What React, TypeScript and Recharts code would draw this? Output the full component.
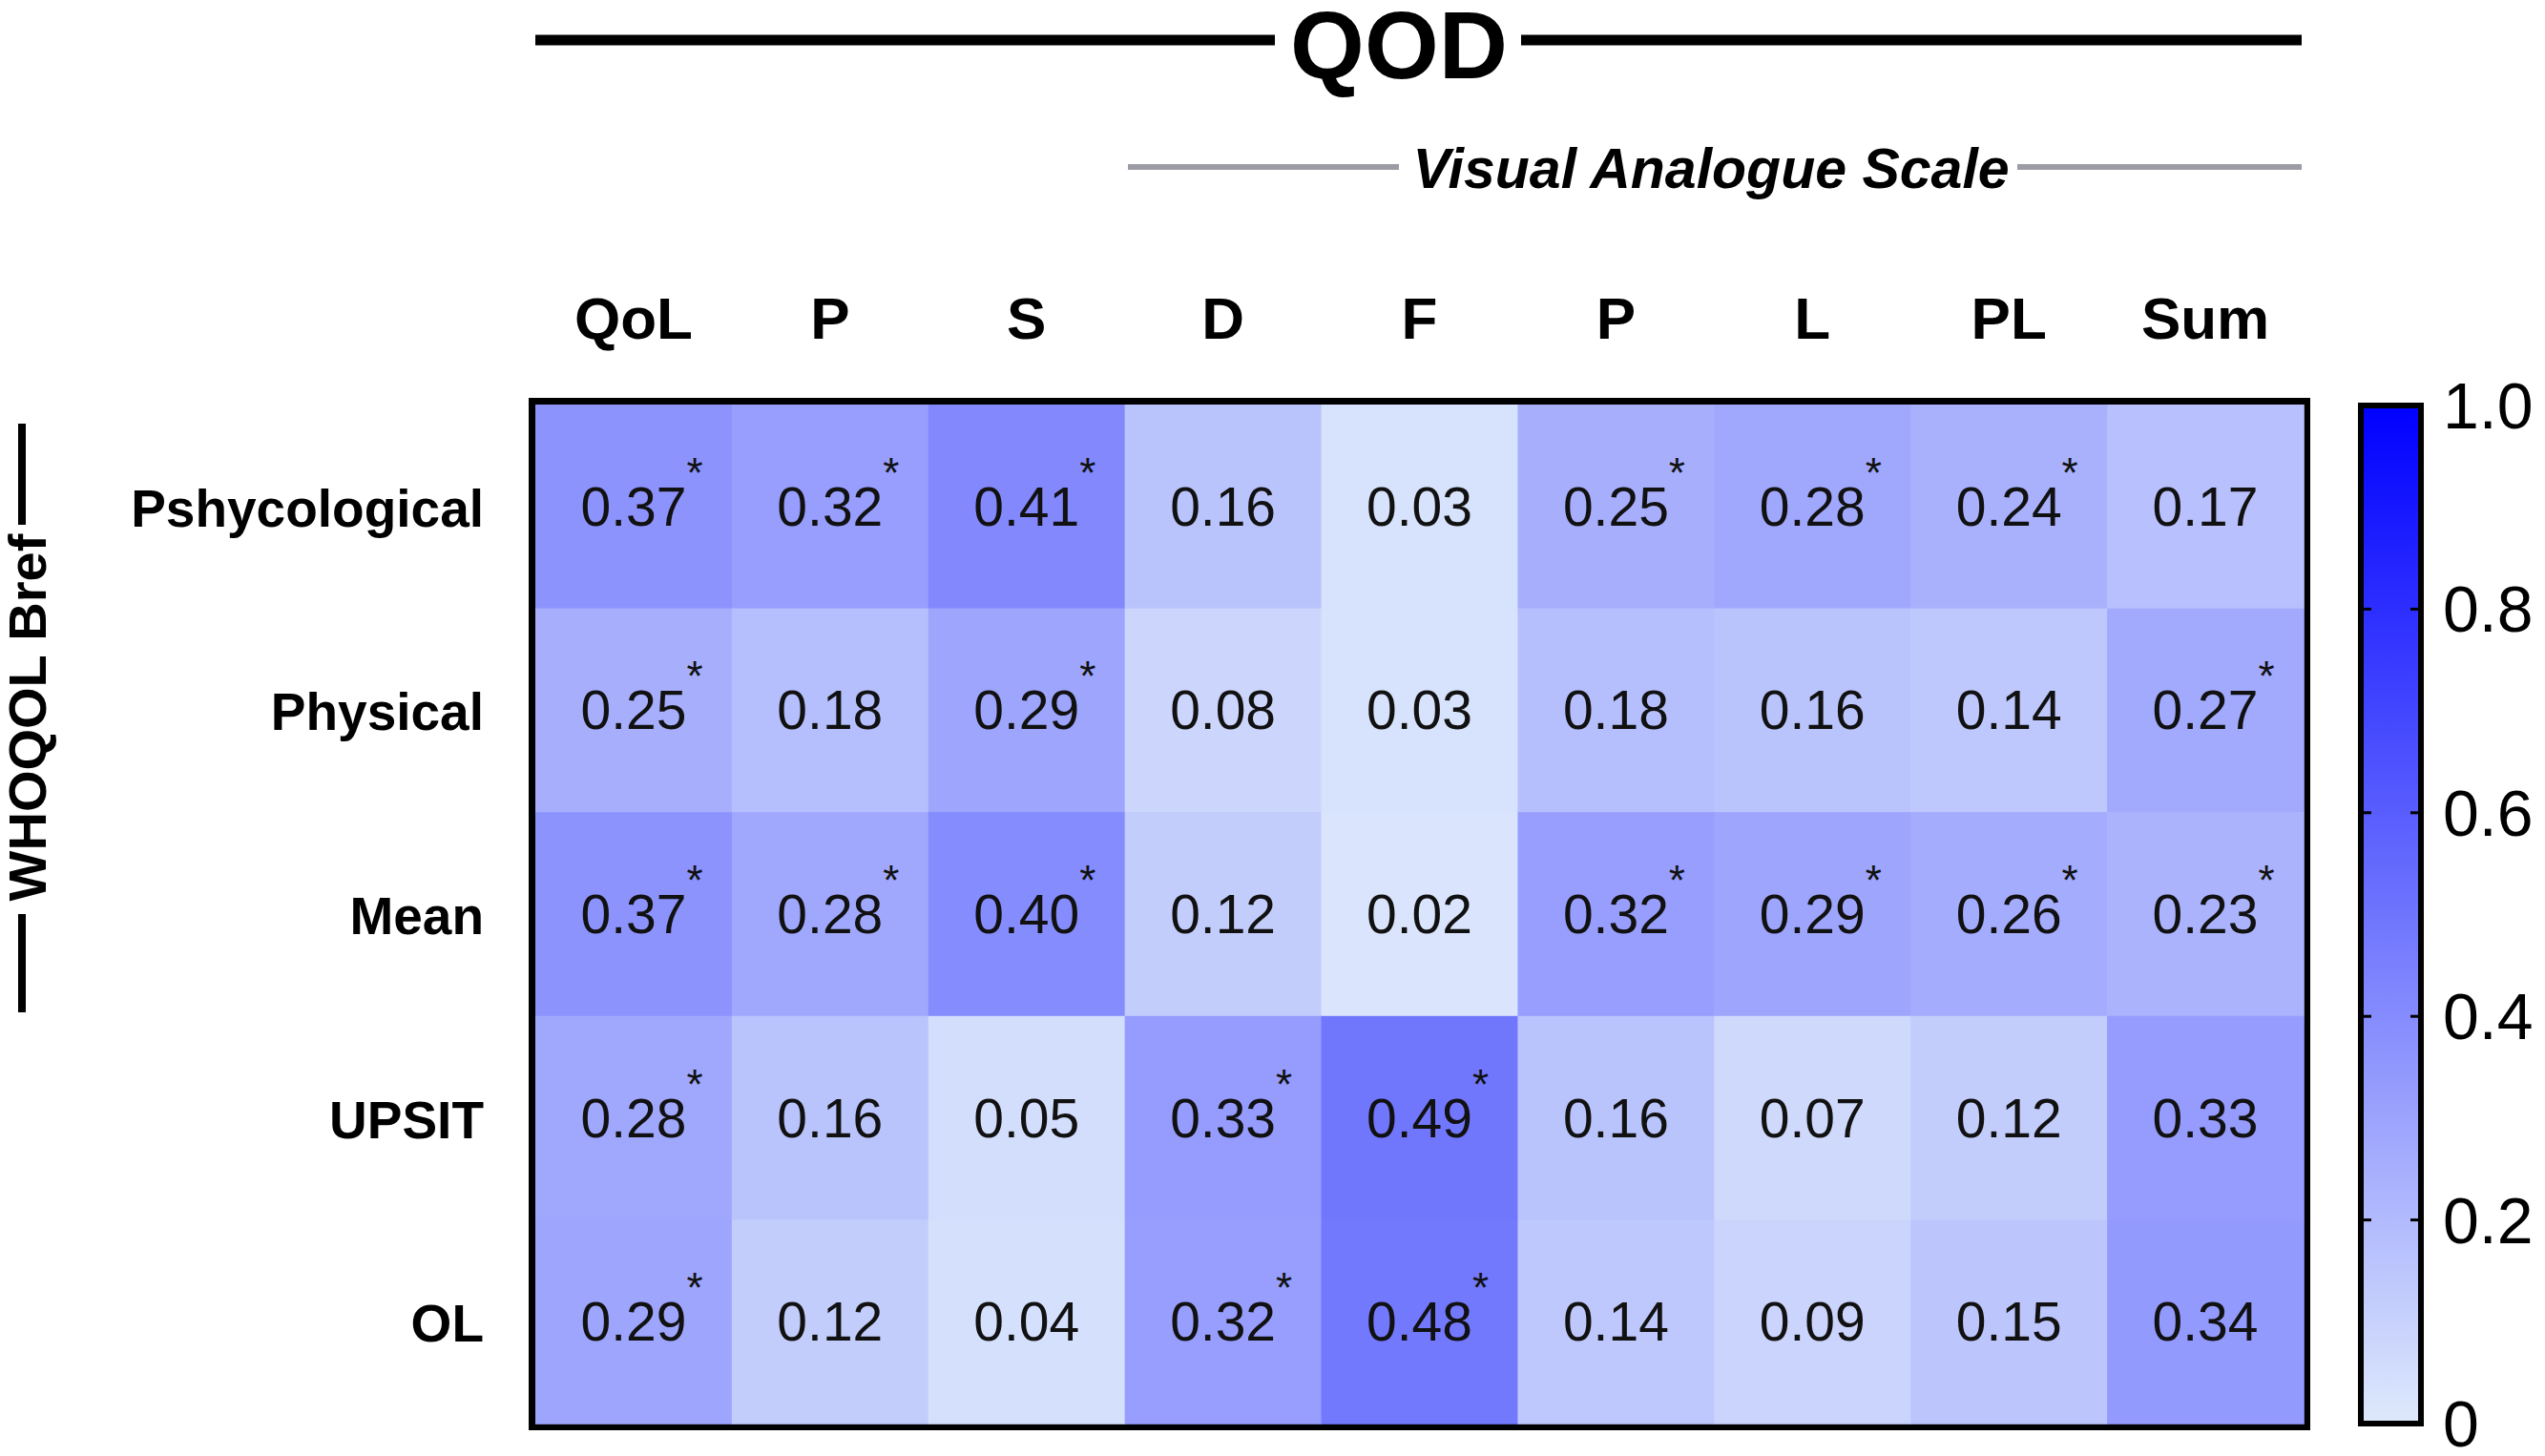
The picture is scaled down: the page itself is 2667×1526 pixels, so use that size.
import React from 'react';
import { ScatterChart, Scatter, XAxis, YAxis, ZAxis, ReferenceArea, BarChart, Bar } from 'recharts';

// ---- data ----
const colLabels = ['QoL', 'P', 'S', 'D', 'F', 'P', 'L', 'PL', 'Sum'];
const rowLabels = ['Pshycological', 'Physical', 'Mean', 'UPSIT', 'OL'];

const pshycological = [0.37, 0.32, 0.41, 0.16, 0.03, 0.25, 0.28, 0.24, 0.17];
const physical = [0.25, 0.18, 0.29, 0.08, 0.03, 0.18, 0.16, 0.14, 0.27];
const mean = [0.37, 0.28, 0.4, 0.12, 0.02, 0.32, 0.29, 0.26, 0.23];
const upsit = [0.28, 0.16, 0.05, 0.33, 0.49, 0.16, 0.07, 0.12, 0.33];
const ol = [0.29, 0.12, 0.04, 0.32, 0.48, 0.14, 0.09, 0.15, 0.34];

const sigPshycological = [1, 1, 1, 0, 0, 1, 1, 1, 0];
const sigPhysical = [1, 0, 1, 0, 0, 0, 0, 0, 1];
const sigMean = [1, 1, 1, 0, 0, 1, 1, 1, 1];
const sigUpsit = [1, 0, 0, 1, 1, 0, 0, 0, 0];
const sigOl = [1, 0, 0, 1, 1, 0, 0, 0, 0];

const colorbarTicks = [0, 0.2, 0.4, 0.6, 0.8, 1];
const colorbarRange = [{ name: 'scale', top: 1 }];

const title = 'QOD';
const subTitle = 'Visual Analogue Scale';
const sideTitle = 'WHOQOL Bref';

const rowValues = [pshycological, physical, mean, upsit, ol];
const rowSig = [sigPshycological, sigPhysical, sigMean, sigUpsit, sigOl];
const cells = rowValues.flatMap((vals, r) =>
  vals.map((v, c) => ({ x: c, y: r, v, sig: rowSig[r][c] }))
);

// ---- layout ----
const W = 2667;
const H = 1526;
const PLOT_L = 561;
const PLOT_R = 2414;
const PLOT_T = 424;
const PLOT_B = 1492;
const CELL_W = (PLOT_R - PLOT_L) / colLabels.length;
const CELL_H = (PLOT_B - PLOT_T) / rowLabels.length;
const FONT = '"Liberation Sans", Arial, Helvetica, sans-serif';

const LOW = [222, 233, 252];
const HIGH = [0, 0, 255];
const valueColor = (v: number) => {
  const c = LOW.map((l, i) => Math.round(l + (HIGH[i] - l) * v));
  return `rgb(${c[0]},${c[1]},${c[2]})`;
};

const CellShape = (props: any) => {
  const { cx, cy, payload } = props;
  if (cx == null || cy == null) return null;
  return (
    <g>
      <rect
        x={cx - CELL_W / 2}
        y={cy - CELL_H / 2}
        width={CELL_W + 0.8}
        height={CELL_H + 0.8}
        fill={valueColor(payload.v)}
      />
      <text x={cx} y={cy + 20} textAnchor="middle" fontSize={57} fontFamily={FONT} fill="#111">
        {payload.v.toFixed(2)}
      </text>
      {payload.sig ? (
        <text x={cx + 64} y={cy - 20} textAnchor="middle" fontSize={44} fontFamily={FONT} fill="#111">
          *
        </text>
      ) : null}
    </g>
  );
};

const XTick = (props: any) => {
  const { x, y, payload } = props;
  return (
    <text x={x} y={y} textAnchor="middle" fontSize={62} fontWeight="bold" fontFamily={FONT} fill="#000">
      {colLabels[payload.value]}
    </text>
  );
};

const YTick = (props: any) => {
  const { x, y, payload } = props;
  return (
    <text x={x} y={y + 21} textAnchor="end" fontSize={55} fontWeight="bold" fontFamily={FONT} fill="#000">
      {rowLabels[payload.value]}
    </text>
  );
};

// colorbar geometry
const CB_LEFT_PAGE = 2440;
const CB_W = 227;
const CB_BAR_L = 2474 - CB_LEFT_PAGE;
const CB_BAR_R = 2537 - CB_LEFT_PAGE;

const CbTick = (props: any) => {
  const { x, y, payload } = props;
  const v = payload.value;
  const label = v === 0 ? '0' : v.toFixed(1);
  const inner = v > 0 && v < 1;
  return (
    <g>
      {inner ? (
        <>
          <line x1={CB_BAR_L} x2={CB_BAR_L + 11} y1={y} y2={y} stroke="#000" strokeWidth={3} />
          <line x1={CB_BAR_R - 11} x2={CB_BAR_R} y1={y} y2={y} stroke="#000" strokeWidth={3} />
        </>
      ) : null}
      <text x={x} y={y + 24} textAnchor="start" fontSize={68} fontFamily={FONT} fill="#000">
        {label}
      </text>
    </g>
  );
};

export default function App() {
  return (
    <div style={{ position: 'absolute', left: 0, top: 0, width: W, height: H, background: '#fff' }}>
      <ScatterChart
        width={W}
        height={H}
        margin={{ top: PLOT_T - 100, left: PLOT_L - 500, right: W - PLOT_R, bottom: H - PLOT_B }}
      >
        <XAxis
          type="number"
          dataKey="x"
          orientation="top"
          domain={[-0.5, colLabels.length - 0.5]}
          ticks={colLabels.map((_, i) => i)}
          height={100}
          axisLine={false}
          tickLine={false}
          tickSize={0}
          tickMargin={69}
          tick={<XTick />}
          interval={0}
        />
        <YAxis
          type="number"
          dataKey="y"
          reversed
          domain={[-0.5, rowLabels.length - 0.5]}
          ticks={rowLabels.map((_, i) => i)}
          width={500}
          axisLine={false}
          tickLine={false}
          tickSize={0}
          tickMargin={54}
          tick={<YTick />}
          interval={0}
        />
        <ZAxis range={[64, 64]} />
        <ReferenceArea
          x1={-0.5}
          x2={colLabels.length - 0.5}
          y1={-0.5}
          y2={rowLabels.length - 0.5}
          fill="none"
          fillOpacity={0}
          stroke="#000"
          strokeWidth={14}
          ifOverflow="visible"
        />
        <Scatter data={cells} shape={<CellShape />} isAnimationActive={false} />
      </ScatterChart>

      <div style={{ position: 'absolute', left: CB_LEFT_PAGE, top: 0 }}>
        <BarChart
          width={CB_W}
          height={H}
          data={colorbarRange}
          margin={{ top: PLOT_T + 1, bottom: H - PLOT_B, left: CB_BAR_L, right: CB_W - CB_BAR_R - 130 }}
          barCategoryGap={0}
        >
          <defs>
            <linearGradient id="cbGrad" x1="0" y1="1" x2="0" y2="0">
              <stop offset="0%" stopColor={valueColor(0)} />
              <stop offset="100%" stopColor={valueColor(1)} />
            </linearGradient>
          </defs>
          <XAxis dataKey="name" type="category" hide />
          <YAxis
            type="number"
            orientation="right"
            domain={[0, 1]}
            ticks={colorbarTicks}
            width={130}
            axisLine={false}
            tickLine={false}
            tickSize={0}
            tickMargin={23}
            tick={<CbTick />}
            interval={0}
          />
          <Bar dataKey="top" fill="url(#cbGrad)" stroke="#000" strokeWidth={6} isAnimationActive={false} />
        </BarChart>
      </div>

      <svg
        width={W}
        height={H}
        style={{ position: 'absolute', left: 0, top: 0, pointerEvents: 'none' }}
      >
        <line x1={561} x2={1336} y1={42} y2={42} stroke="#000" strokeWidth={11} />
        <line x1={1594} x2={2412} y1={42} y2={42} stroke="#000" strokeWidth={11} />
        <text x={1466} y={82} textAnchor="middle" fontSize={100} fontWeight="bold" fontFamily={FONT} fill="#000">
          {title}
        </text>
        <line x1={1182} x2={1466} y1={175} y2={175} stroke="#9c9ca4" strokeWidth={6} />
        <line x1={2114} x2={2412} y1={175} y2={175} stroke="#9c9ca4" strokeWidth={6} />
        <text
          x={1793}
          y={197}
          textAnchor="middle"
          fontSize={59}
          fontWeight="bold"
          fontStyle="italic"
          fontFamily={FONT}
          fill="#000"
        >
          {subTitle}
        </text>
        <line x1={23} x2={23} y1={444} y2={550} stroke="#000" strokeWidth={8} />
        <line x1={23} x2={23} y1={958} y2={1061} stroke="#000" strokeWidth={8} />
        <text
          x={48}
          y={752}
          transform="rotate(-90 48 752)"
          textAnchor="middle"
          fontSize={56}
          fontWeight="bold"
          fontFamily={FONT}
          fill="#000"
        >
          {sideTitle}
        </text>
      </svg>
    </div>
  );
}
